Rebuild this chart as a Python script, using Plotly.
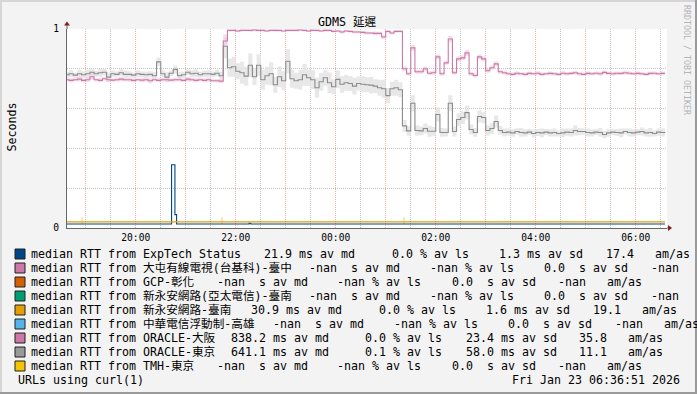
import plotly.graph_objects as go
import pandas as pd

# ---------------- data ----------------
# ORACLE-大阪 median RTT (s), 5-minute steps from 18:35
osaka = [
    0.745, 0.742, 0.745, 0.748, 0.742, 0.745, 0.760, 0.745, 0.742, 0.750,
    0.745, 0.743, 0.745, 0.748, 0.745, 0.745, 0.742, 0.745, 0.743, 0.745,
    0.740, 0.745, 0.742, 0.745, 0.745, 0.743, 0.745, 0.745, 0.742, 0.748,
    0.745, 0.742, 0.745, 0.742, 0.745, 0.740, 0.740, 0.738,
    0.940,
    0.993, 0.993, 0.990, 0.993, 0.993, 0.993, 0.995, 0.993, 0.993, 0.990,
    0.993, 0.993, 0.993, 0.990, 0.993, 0.993, 0.993, 0.995, 0.993, 0.990,
    0.993, 0.993, 0.990, 0.993, 0.993, 0.988, 0.990, 0.985, 0.990, 0.988,
    0.985, 0.985, 0.983, 0.980, 0.980, 0.978, 0.978, 0.960, 0.988, 0.980,
    0.988, 0.988,
    0.800, 0.775, 0.905, 0.785, 0.785, 0.800, 0.778, 0.780, 0.860, 0.775,
    0.830, 0.950, 0.780, 0.850, 0.855, 0.880, 0.775, 0.766, 0.860, 0.850,
    0.790, 0.805, 0.825, 0.785, 0.780,
    0.775, 0.772, 0.778, 0.775, 0.772, 0.777, 0.775, 0.778, 0.772, 0.775,
    0.777, 0.775, 0.772, 0.778, 0.775, 0.777, 0.780, 0.775, 0.772, 0.777,
    0.775, 0.778, 0.775, 0.782, 0.777, 0.775, 0.778, 0.777, 0.780, 0.778,
    0.775, 0.777, 0.775, 0.772, 0.777, 0.778, 0.775, 0.777, 0.777,
]
# ORACLE-東京 median RTT (s)
tokyo = [
    0.770, 0.775, 0.768, 0.775, 0.770, 0.775, 0.783, 0.775, 0.780, 0.783,
    0.758, 0.775, 0.772, 0.780, 0.772, 0.772, 0.768, 0.775, 0.772, 0.770,
    0.772, 0.765, 0.835, 0.775, 0.758, 0.778, 0.797, 0.765, 0.770, 0.783,
    0.775, 0.778, 0.770, 0.775, 0.775, 0.772, 0.778, 0.765,
    0.913,
    0.805, 0.810, 0.788, 0.780, 0.763, 0.818, 0.760, 0.818, 0.745, 0.765,
    0.775, 0.720, 0.760, 0.740, 0.838, 0.750, 0.740, 0.745, 0.770, 0.755,
    0.745, 0.705, 0.735, 0.755, 0.730, 0.710, 0.747, 0.722, 0.730, 0.726,
    0.713, 0.726, 0.722, 0.720, 0.718, 0.713, 0.705, 0.700, 0.665, 0.700,
    0.705, 0.695,
    0.513, 0.488, 0.627, 0.490, 0.488, 0.500, 0.486, 0.486, 0.570, 0.480,
    0.480, 0.627, 0.485, 0.545, 0.555, 0.580, 0.495, 0.480, 0.560, 0.555,
    0.490, 0.500, 0.535, 0.490, 0.480,
    0.482, 0.478, 0.485, 0.480, 0.478, 0.482, 0.475, 0.480, 0.478, 0.482,
    0.478, 0.480, 0.475, 0.478, 0.482, 0.480, 0.490, 0.485, 0.485, 0.480,
    0.478, 0.482, 0.480, 0.470, 0.478, 0.482, 0.480, 0.478, 0.485, 0.480,
    0.478, 0.482, 0.485, 0.478, 0.480, 0.475, 0.482, 0.480, 0.482,
]
# smoke half-width (ms)
osaka_smoke_ms = [
    8, 10, 8, 12, 9, 10, 12, 8, 10, 9, 10, 8, 9, 11, 8, 10, 9, 8, 10, 9,
    12, 8, 10, 9, 10, 8, 9, 10, 8, 12, 9, 10, 8, 9, 10, 8, 9, 10,
    20,
    5, 4, 6, 5, 4, 5, 6, 4, 5, 5, 4, 6, 5, 4, 5, 5, 6, 4, 5, 5,
    6, 5, 4, 6, 5, 6, 5, 7, 6, 5, 8, 6, 7, 8, 6, 9, 8, 10, 6, 8, 7, 6,
    12, 10, 15, 10, 10, 12, 10, 10, 12, 10, 10, 15, 10, 12, 12, 14, 10, 10, 12, 12,
    10, 10, 12, 10, 10,
    8, 10, 9, 8, 10, 9, 8, 10, 9, 8, 10, 9, 8, 10, 9, 8, 10, 9, 8, 10,
    9, 8, 10, 9, 8, 10, 9, 8, 10, 9, 8, 10, 9, 8, 10, 9, 8, 10, 9,
]
tokyo_smoke_ms = [
    15, 18, 14, 20, 16, 22, 18, 15, 20, 17, 24, 16, 15, 18, 20, 16, 14, 18, 15, 17,
    16, 20, 22, 18, 25, 15, 20, 18, 16, 15, 18, 20, 15, 16, 18, 15, 17, 20,
    60,
    45, 50, 40, 55, 48, 60, 42, 55, 50, 45, 58, 40, 52, 48, 60, 45, 40, 50, 55, 42,
    48, 50, 45, 40, 52, 38, 45, 42, 40, 38, 42, 35, 40, 38, 42, 35, 40, 45, 38, 35,
    40, 38,
    30, 25, 40, 25, 22, 25, 28, 22, 35, 22, 20, 40, 25, 30, 32, 35, 25, 22, 30, 28,
    25, 28, 30, 22, 20,
    18, 20, 16, 22, 18, 15, 20, 18, 22, 16, 18, 20, 15, 22, 18, 20, 25, 18, 16, 20,
    18, 15, 22, 18, 20, 16, 18, 22, 15, 20, 18, 16, 20, 18, 22, 15, 18, 20, 18,
]
times = pd.date_range("2026-01-22 18:35", periods=len(osaka), freq="5min")

# ExpTech Status (change points)
exp_times = ["2026-01-22 18:35", "2026-01-22 20:43", "2026-01-22 20:47", "2026-01-22 20:49",
             "2026-01-22 22:16", "2026-01-22 22:18", "2026-01-23 06:35"]
exp_vals = [0.020, 0.318, 0.067, 0.020, 0.024, 0.020, 0.020]
# 新永安網路-臺南
yongan_times = ["2026-01-22 18:35", "2026-01-23 06:35"]
yongan_vals = [0.031, 0.031]
yongan_smoke_times = ["2026-01-22 18:55", "2026-01-22 21:44", "2026-01-23 01:22"]
yongan_smoke_lo = [0.020, 0.020, 0.020]
yongan_smoke_hi = [0.056, 0.056, 0.057]

# legend data
targets = ["ExpTech Status", "大屯有線電視(台基科)-臺中", "GCP-彰化", "新永安網路(亞太電信)-臺南",
           "新永安網路-臺南", "中華電信浮動制-高雄", "ORACLE-大阪", "ORACLE-東京", "TMH-東京"]
colors = ["#004586", "#cc79a7", "#d55e00", "#009e73", "#e69f00", "#56b4e9", "#cc79a7", "#999999", "#f5c400"]
med_txt = ["21.9", "-nan", "-nan", "-nan", "30.9", "-nan", "838.2", "641.1", "-nan"]
loss_txt = ["0.0", "-nan", "-nan", "-nan", "0.0", "-nan", "0.0", "0.1", "-nan"]
sd_txt = ["1.3", "0.0", "0.0", "0.0", "1.6", "0.0", "23.4", "58.0", "0.0"]
ratio_txt = ["17.4", "-nan", "-nan", "-nan", "19.1", "-nan", "35.8", "11.1", "-nan"]
unit_txt = ["m", " ", " ", " ", "m", " ", "m", "m", " "]

title_txt = "GDMS 延遲"
date_txt = "Fri Jan 23 06:36:51 2026"
x_start, x_end = "2026-01-22 18:37:30", "2026-01-23 06:37:30"

# ---------------- figure ----------------
W, H = 697, 394
L, R, T, B = 67, 30, 29, 166
PW, PH = W - L - R, H - T - B
MONO = "DejaVu Sans Mono, Noto Sans CJK TC, monospace"


def px(x):
    return (x - L) / PW


def py(y):
    return (H - B - y) / PH


fig = go.Figure()


def smoke(vals, spread, color):
    lo = [v - s / 1000 for v, s in zip(vals, spread)]
    hi = [v + s / 1000 for v, s in zip(vals, spread)]
    fig.add_trace(go.Scatter(x=times, y=lo, mode="lines", line=dict(width=0, shape="hv"),
                             showlegend=False, hoverinfo="skip"))
    fig.add_trace(go.Scatter(x=times, y=hi, mode="lines", line=dict(width=0, shape="hv"),
                             fill="tonexty", fillcolor=color, showlegend=False, hoverinfo="skip"))


smoke(tokyo, tokyo_smoke_ms, "rgba(228,228,228,0.85)")
smoke(osaka, osaka_smoke_ms, "rgba(240,205,225,0.7)")

fig.add_trace(go.Bar(x=yongan_smoke_times, y=[h - l for h, l in zip(yongan_smoke_hi, yongan_smoke_lo)],
                     base=yongan_smoke_lo, width=150000, marker=dict(color="#fbe6b8", line=dict(width=0)),
                     showlegend=False, hoverinfo="skip"))

fig.add_trace(go.Scatter(x=exp_times, y=exp_vals, mode="lines",
                         line=dict(color=colors[0], width=1.1, shape="hv"), showlegend=False))
fig.add_trace(go.Scatter(x=yongan_times, y=yongan_vals, mode="lines",
                         line=dict(color=colors[4], width=1.1, shape="hv"), showlegend=False))
fig.add_trace(go.Scatter(x=times, y=osaka, mode="lines",
                         line=dict(color=colors[6], width=1.1, shape="hv"), showlegend=False))
fig.add_trace(go.Scatter(x=times, y=tokyo, mode="lines",
                         line=dict(color="#8c8c8c", width=1.1, shape="hv"), showlegend=False))

hours = pd.date_range("2026-01-22 19:00", "2026-01-23 06:00", freq="1h")
halfs = pd.date_range("2026-01-22 18:30", "2026-01-23 06:30", freq="1h")
ticktext = [t.strftime("%H:%M") if t.hour % 2 == 0 else "" for t in hours]

fig.update_xaxes(type="date", range=[x_start, x_end], tickvals=list(hours), ticktext=ticktext,
                 showgrid=True, gridcolor="rgba(235,120,120,0.6)", griddash="1px,1px", gridwidth=1,
                 minor=dict(tickvals=list(halfs), showgrid=True, gridcolor="rgba(170,170,170,0.7)",
                            griddash="1px,1px", gridwidth=1),
                 showline=True, linecolor="#666666", linewidth=1, zeroline=False,
                 tickfont=dict(family=MONO, size=9.6, color="#000000"), ticks="",
                 fixedrange=True)
fig.update_yaxes(range=[0, 1], tickvals=[0, 1], ticktext=["0", "1"],
                 showgrid=True, gridcolor="rgba(235,120,120,0.6)", griddash="1px,1px",
                 minor=dict(tickvals=[0.2, 0.4, 0.6, 0.8], showgrid=True, gridcolor="rgba(170,170,170,0.7)",
                            griddash="1px,1px"),
                 showline=True, linecolor="#666666", linewidth=1, zeroline=False,
                 tickfont=dict(family=MONO, size=9.6, color="#000000"), ticks="",
                 ticklabelstandoff=5, fixedrange=True)

shapes = []
# frame
shapes.append(dict(type="rect", xref="paper", yref="paper", x0=px(0), x1=px(W), y0=py(0), y1=py(2),
                   fillcolor="#d6d6d6", line=dict(width=0), layer="above"))
shapes.append(dict(type="rect", xref="paper", yref="paper", x0=px(0), x1=px(2), y0=py(0), y1=py(H),
                   fillcolor="#d6d6d6", line=dict(width=0), layer="above"))
shapes.append(dict(type="rect", xref="paper", yref="paper", x0=px(0), x1=px(W), y0=py(H - 2), y1=py(H),
                   fillcolor="#9a9a9a", line=dict(width=0), layer="above"))
shapes.append(dict(type="rect", xref="paper", yref="paper", x0=px(W - 2), x1=px(W), y0=py(0), y1=py(H),
                   fillcolor="#9a9a9a", line=dict(width=0), layer="above"))
# axis extensions + arrows
shapes.append(dict(type="line", xref="paper", yref="paper", x0=0, x1=0, y0=1, y1=py(25),
                   line=dict(color="#666666", width=1)))
shapes.append(dict(type="line", xref="paper", yref="paper", x0=1, x1=px(670), y0=0, y1=0,
                   line=dict(color="#666666", width=1)))
shapes.append(dict(type="path", xref="paper", yref="paper",
                   path=f"M {px(L-3)},{py(25.5)} L {px(L+3)},{py(25.5)} L {px(L)},{py(21.5)} Z",
                   fillcolor="#8b1a1a", line=dict(width=0)))
shapes.append(dict(type="path", xref="paper", yref="paper",
                   path=f"M {px(668)},{py(H-B-3)} L {px(668)},{py(H-B+3)} L {px(672)},{py(H-B)} Z",
                   fillcolor="#8b1a1a", line=dict(width=0)))

ann = []


def text(x, y, s, size=11.63, anchor="left", color="#000000", angle=0):
    ann.append(dict(xref="paper", yref="paper", x=px(x), y=py(y), text=s, showarrow=False,
                    xanchor=anchor, yanchor="middle", borderpad=0, textangle=angle,
                    font=dict(family=MONO, size=size, color=color)))


text(347.5, 22.5, title_txt, anchor="center")
text(11, 127.5, "Seconds", angle=-90, anchor="center")
text(687, 60, "RRDTOOL / TOBI OETIKER", size=8.3, anchor="center", color="#b4b4b4", angle=90)

for k, name in enumerate(targets):
    yrow = 254 + 14 * k
    shapes.append(dict(type="rect", xref="paper", yref="paper", x0=px(15), x1=px(25),
                       y0=py(yrow - 5), y1=py(yrow + 5), fillcolor=colors[k],
                       line=dict(color="#202020", width=1)))
    text(30, yrow, "median RTT from " + name)
    n_cjk = sum(1 for c in name if ord(c) > 255)
    x0 = 142.3 + (len(name) - n_cjk) * 7 + n_cjk * 11.1 + 23
    u = unit_txt[k]
    text(x0 - 7, yrow, f"{med_txt[k]:>5} {u}s av md".replace(" ", "&nbsp;"))
    text(x0 + 113.7, yrow, f"{loss_txt[k]:>5} % av ls".replace(" ", "&nbsp;"))
    text(x0 + 221, yrow, f"{sd_txt[k]:>5} {u}s av sd".replace(" ", "&nbsp;"))
    text(x0 + 334.7, yrow, f"{ratio_txt[k]:>5}   am/as".replace(" ", "&nbsp;"))

text(16.7, 379.5, "URLs using curl(1)")
text(680.7, 379.5, date_txt, anchor="right")

fig.update_layout(width=W, height=H, margin=dict(l=L, r=R, t=T, b=B, pad=0),
                  paper_bgcolor="#f3f3f3", plot_bgcolor="#ffffff",
                  shapes=shapes, annotations=ann, showlegend=False, bargap=0)

fig.write_html("out.html", config={"displayModeBar": False, "staticPlot": True},
               post_script="document.body.style.margin='0';document.body.style.overflow='hidden';")
